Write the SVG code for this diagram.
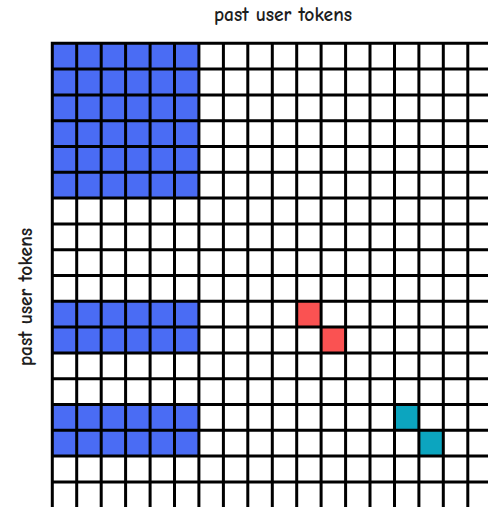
<svg xmlns="http://www.w3.org/2000/svg" width="488" height="507" viewBox="0 0 488 507">
<style>
.lbl{font-family:"Comic Neue","Liberation Sans","DejaVu Sans",sans-serif;font-size:19.5px;font-weight:bold;fill:#1e1e1e;text-anchor:middle}
.blue{fill:#4a6cf4}
.red{fill:#fa5252}
.teal{fill:#0ca5bf}
.grid{stroke:#000;stroke-width:3;fill:none;stroke-linecap:square}
</style>
<rect width="488" height="507" fill="#fff"/>
<g id="cells">
<rect class="blue" x="52.3" y="43.3" width="146.6" height="154.8"/>
<rect class="blue" x="52.3" y="301.3" width="146.6" height="51.6"/>
<rect class="blue" x="52.3" y="404.5" width="146.6" height="51.6"/>
<rect class="red" x="296.7" y="301.3" width="24.4" height="25.8"/>
<rect class="red" x="321.1" y="327.1" width="24.5" height="25.8"/>
<rect class="teal" x="394.5" y="404.5" width="24.4" height="25.8"/>
<rect class="teal" x="418.9" y="430.3" width="24.4" height="25.8"/>
</g>
<g id="grid">
<path class="grid" d="M52.3 43.3V510M76.7 43.3V510M101.2 43.3V510M125.6 43.3V510M150.1 43.3V510M174.5 43.3V510M198.9 43.3V510M223.4 43.3V510M247.8 43.3V510M272.3 43.3V510M296.7 43.3V510M321.1 43.3V510M345.6 43.3V510M370 43.3V510M394.5 43.3V510M418.9 43.3V510M443.3 43.3V510M467.8 43.3V510
M52.3 43.3H490M52.3 69.1H490M52.3 94.9H490M52.3 120.7H490M52.3 146.5H490M52.3 172.3H490M52.3 198.1H490M52.3 223.9H490M52.3 249.7H490M52.3 275.5H490M52.3 301.3H490M52.3 327.1H490M52.3 352.9H490M52.3 378.7H490M52.3 404.5H490M52.3 430.3H490M52.3 456.1H490M52.3 481.9H490"/>
</g>
<g id="labels">
<text class="lbl" x="283" y="21">past user tokens</text>
<text class="lbl" transform="translate(32 297) rotate(-90)">past user tokens</text>
</g>
</svg>
